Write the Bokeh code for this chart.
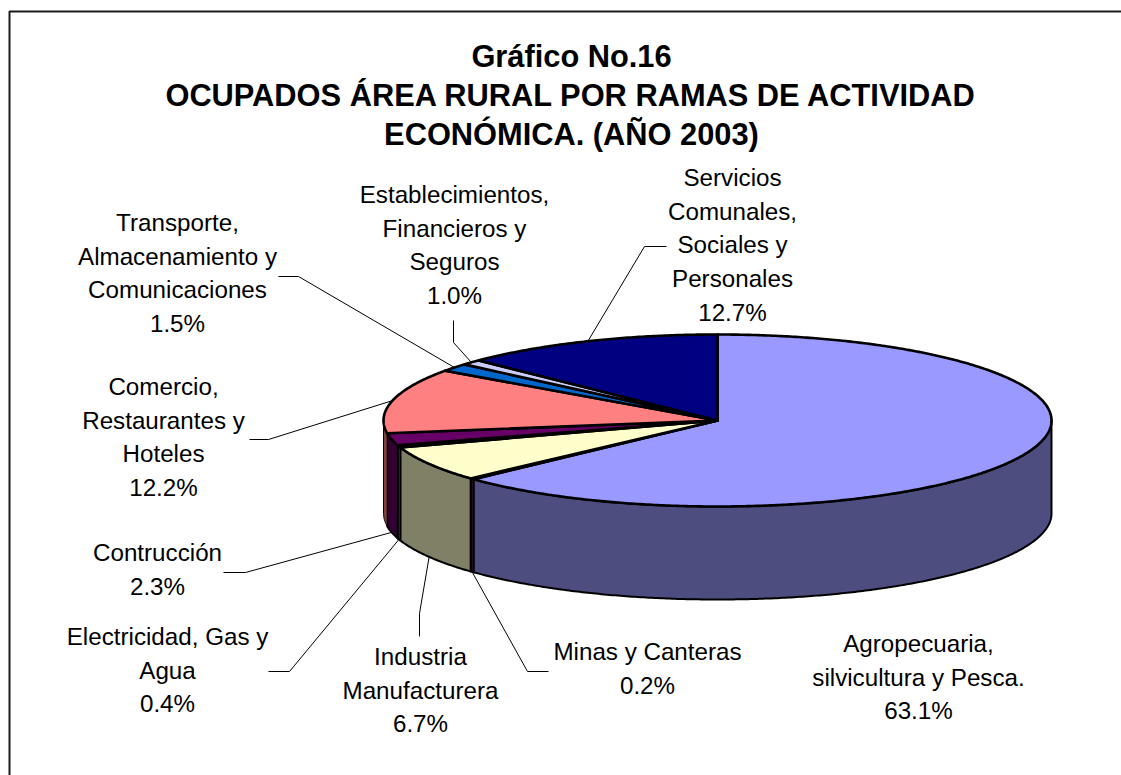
import math
from bokeh.plotting import figure
from bokeh.models import Range1d
from bokeh.core.properties import value
from bokeh.embed import file_html
from bokeh.resources import INLINE

# ---- data ----
title_lines = ["Gráfico No.16", "OCUPADOS ÁREA RURAL POR RAMAS DE ACTIVIDAD", "ECONÓMICA. (AÑO 2003)"]
names = [
    ["Agropecuaria,", "silvicultura y Pesca."],
    ["Minas y Canteras"],
    ["Industria", "Manufacturera"],
    ["Electricidad, Gas y", "Agua"],
    ["Contrucción"],
    ["Comercio,", "Restaurantes y", "Hoteles"],
    ["Transporte,", "Almacenamiento y", "Comunicaciones"],
    ["Establecimientos,", "Financieros y", "Seguros"],
    ["Servicios", "Comunales,", "Sociales y", "Personales"],
]
shares = [63.1, 0.2, 6.7, 0.4, 2.3, 12.2, 1.5, 1.0, 12.7]
top_colors = ["#9999FF", "#993366", "#FFFFCC", "#CCFFFF", "#660066", "#FF8080", "#0066CC", "#CCCCFF", "#000080"]
side_colors = ["#4D4D80", "#4D1A33", "#808066", "#668080", "#330033", "#804040", "#003366", "#666680", "#000040"]

# ---- layout (page pixels) ----
W, H = 1121, 775
CX, CY, RX, RY, DEPTH = 717, 420, 334, 86, 93
FONT = value("Liberation Sans")
LABEL_PX, TITLE_PX = "24.2px", "30.8px"
LINE_STEP = 33.7
LABEL_SHIFT, TITLE_SHIFT = -9, -12
label_pos = [(918, 652), (647, 660), (420, 665), (167, 645), (157, 561),
             (163, 395), (177, 231), (454, 203), (732, 186)]
leader_knees = [None, ((548, 671), (527, 671)), ((419, 636), (419, 613)), ((268, 671), (289, 671)),
                ((223, 572), (245, 572)), ((249, 439), (268, 439)), ((278, 276), (298, 276)),
                ((453, 320), (453, 342)), ((666, 246), (644, 246))]

p = figure(width=W, height=H, output_backend="svg", toolbar_location=None,
           x_range=Range1d(0, W), y_range=Range1d(H, 0), min_border=0)
p.axis.visible = False
p.grid.visible = False
p.outline_line_color = None
p.background_fill_color = "white"
p.border_fill_color = "white"

# frame
p.line([W, 9, 9], [11, 11, H], line_color="#1a1a1a", line_width=2)

def pt(deg, dz=0):
    a = math.radians(deg)
    return CX + RX * math.sin(a), CY - RY * math.cos(a) + dz

total = sum(shares)
edges = [0.0]
for s in shares:
    edges.append(edges[-1] + s / total * 360)

def arc(a, b, dz=0):
    n = max(2, int(abs(b - a) * 2))
    return [pt(a + (b - a) * i / n, dz) for i in range(n + 1)]

# side walls (visible half only); the narrow wall at the far left goes last with a thin edge
for i in [0, 1, 2, 3, 4, 6, 7, 8, 5]:
    a, b = max(edges[i], 90), min(edges[i + 1], 270)
    if b <= a:
        continue
    pts = arc(a, b) + arc(b, a, DEPTH)
    p.patch([q[0] for q in pts], [q[1] for q in pts], fill_color=side_colors[i],
            line_color="black", line_width=1 if i == 5 else 2, line_join="round")

# top faces
for i in range(len(shares)):
    pts = [(CX, CY)] + arc(edges[i], edges[i + 1])
    p.patch([q[0] for q in pts], [q[1] for q in pts], fill_color=top_colors[i],
            line_color="black", line_width=2.6, line_join="round")

# leaders: end on the slice's middle angle
for i, knee in enumerate(leader_knees):
    if knee is None:
        continue
    mid = (edges[i] + edges[i + 1]) / 2
    on_side = 90 < mid < 270 and i != 5
    ex, ey = pt(mid, DEPTH if on_side else 0)
    p.line([knee[0][0], knee[1][0], ex], [knee[0][1], knee[1][1], ey], line_color="black", line_width=1)

# labels
for i, lines in enumerate(names):
    cx, y0 = label_pos[i]
    rows = lines + [f"{shares[i]:.1f}%"]
    p.text([cx] * len(rows), [y0 + LABEL_SHIFT + k * LINE_STEP for k in range(len(rows))], text=rows,
           text_align="center", text_baseline="alphabetic", text_font=FONT,
           text_font_size=LABEL_PX, text_color="black")

# title
p.text([571] * 3, [y + TITLE_SHIFT for y in (68, 107, 146)], text=title_lines, text_align="center",
       text_baseline="alphabetic", text_font=FONT, text_font_size=TITLE_PX, text_font_style="bold",
       text_color="black")

open("out.html", "w").write(file_html(p, INLINE))
